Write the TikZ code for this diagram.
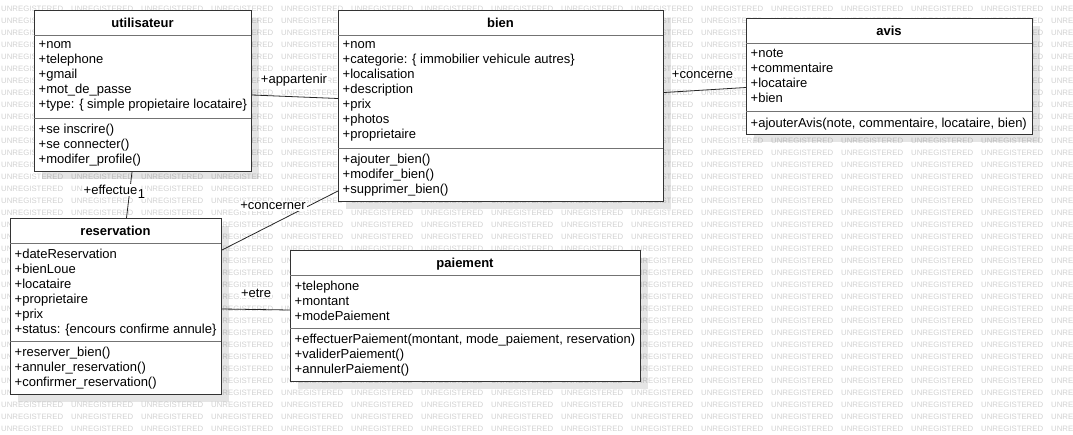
\documentclass[tikz,border=0pt]{standalone}
\usepackage{fontspec}
\setmainfont{Liberation Sans}
\usetikzlibrary{positioning, shadows}

\tikzset{
  classbox/.style={draw=black!80, line width=1pt, fill=white, anchor=north west, inner sep=0pt,
    drop shadow={shadow xshift=7pt, shadow yshift=-7pt, fill=black, opacity=0.1}},
  classsep/.style={draw=black!55, line width=1pt},
  classtitle/.style={anchor=base, inner sep=0pt, font=\fontsize{13}{15}\selectfont\bfseries},
  members/.style={anchor=north west, align=left, inner sep=0pt, execute at begin node=\strut,
    font=\fontsize{13}{15}\selectfont},
  assoc/.style={draw=black!85, line width=0.8pt},
  rolelabel/.style={fill=white, inner sep=1pt, font=\fontsize{13}{15}\selectfont},
  watermark/.style={anchor=west, inner sep=0pt, text=black!18, font=\fontsize{7.8}{8}\selectfont},
}

\begin{document}
\begin{tikzpicture}[x=1pt, y=-1pt]
\useasboundingbox (0,0) rectangle (1073,434);

% background watermark
\foreach \r in {0,...,35}
  \foreach \c in {0,...,15}
    \node[watermark] (wm-\r-\c) at (1+70*\c, 9+12*\r) {UNREGISTERED};

% utilisateur
\node[classbox, minimum width=217pt, minimum height=161pt] (utilisateur) at (34,10) {};
\node[classtitle] (utilisateur-title) at (142.5,27) {utilisateur};
\draw[classsep] (34,35) -- (251,35);
\draw[classsep] (34,118) -- (251,118);
\node[members] (utilisateur-attr) at (38.5,41) {+nom\\+telephone\\+gmail\\+mot\_de\_passe\\+type: \{ simple propietaire locataire\}};
\node[members] (utilisateur-ops) at (38.5,124) {+se inscrire()\\+se connecter()\\+modifer\_profile()};

% bien
\node[classbox, minimum width=325pt, minimum height=191pt] (bien) at (338,10) {};
\node[classtitle] (bien-title) at (500.5,27) {bien};
\draw[classsep] (338,35) -- (663,35);
\draw[classsep] (338,148) -- (663,148);
\node[members] (bien-attr) at (342.5,41) {+nom\\+categorie: \{ immobilier vehicule autres\}\\+localisation\\+description\\+prix\\+photos\\+proprietaire};
\node[members] (bien-ops) at (342.5,154) {+ajouter\_bien()\\+modifer\_bien()\\+supprimer\_bien()};

% avis
\node[classbox, minimum width=286pt, minimum height=116pt] (avis) at (746,18) {};
\node[classtitle] (avis-title) at (889,35) {avis};
\draw[classsep] (746,43) -- (1032,43);
\draw[classsep] (746,111) -- (1032,111);
\node[members] (avis-attr) at (750.5,49) {+note\\+commentaire\\+locataire\\+bien};
\node[members] (avis-ops) at (750.5,117) {+ajouterAvis(note, commentaire, locataire, bien)};

% reservation
\node[classbox, minimum width=211pt, minimum height=176pt] (reservation) at (10,218) {};
\node[classtitle] (reservation-title) at (115.5,235) {reservation};
\draw[classsep] (10,243) -- (221,243);
\draw[classsep] (10,341) -- (221,341);
\node[members] (reservation-attr) at (14.5,249) {+dateReservation\\+bienLoue\\+locataire\\+proprietaire\\+prix\\+status: \{encours confirme annule\}};
\node[members] (reservation-ops) at (14.5,347) {+reserver\_bien()\\+annuler\_reservation()\\+confirmer\_reservation()};

% paiement
\node[classbox, minimum width=350pt, minimum height=131pt] (paiement) at (290,250) {};
\node[classtitle] (paiement-title) at (465,267) {paiement};
\draw[classsep] (290,275) -- (640,275);
\draw[classsep] (290,328) -- (640,328);
\node[members] (paiement-attr) at (294.5,281) {+telephone\\+montant\\+modePaiement};
\node[members] (paiement-ops) at (294.5,334) {+effectuerPaiement(montant, mode\_paiement, reservation)\\+validerPaiement()\\+annulerPaiement()};

% associations
\draw[assoc] ([yshift=-85pt]utilisateur.north east) -- ([yshift=-88.5pt]bien.north west);
\draw[assoc] ([yshift=-82.5pt]bien.north east) -- ([yshift=-69.5pt]avis.north west);
\draw[assoc] ([xshift=98pt]utilisateur.south west) -- ([xshift=116.5pt]reservation.north west);
\draw[assoc] ([yshift=11pt]bien.south west) -- ([yshift=-32pt]reservation.north east);
\draw[assoc] ([yshift=-91pt]reservation.north east) -- ([yshift=-60pt]paiement.north west);

% role names
\node[rolelabel] (lbl-appartenir) at (294,80.5) {+appartenir};
\node[rolelabel] (lbl-concerne) at (702.5,74.5) {+concerne};
\node[rolelabel] (lbl-effectue) at (110.5,190) {+effectue};
\node[rolelabel] (lbl-one) at (141.5,194) {1};
\node[rolelabel] (lbl-concerner) at (273,206) {+concerner};
\node[rolelabel] (lbl-etre) at (256,293) {+etre};
\end{tikzpicture}
\end{document}
